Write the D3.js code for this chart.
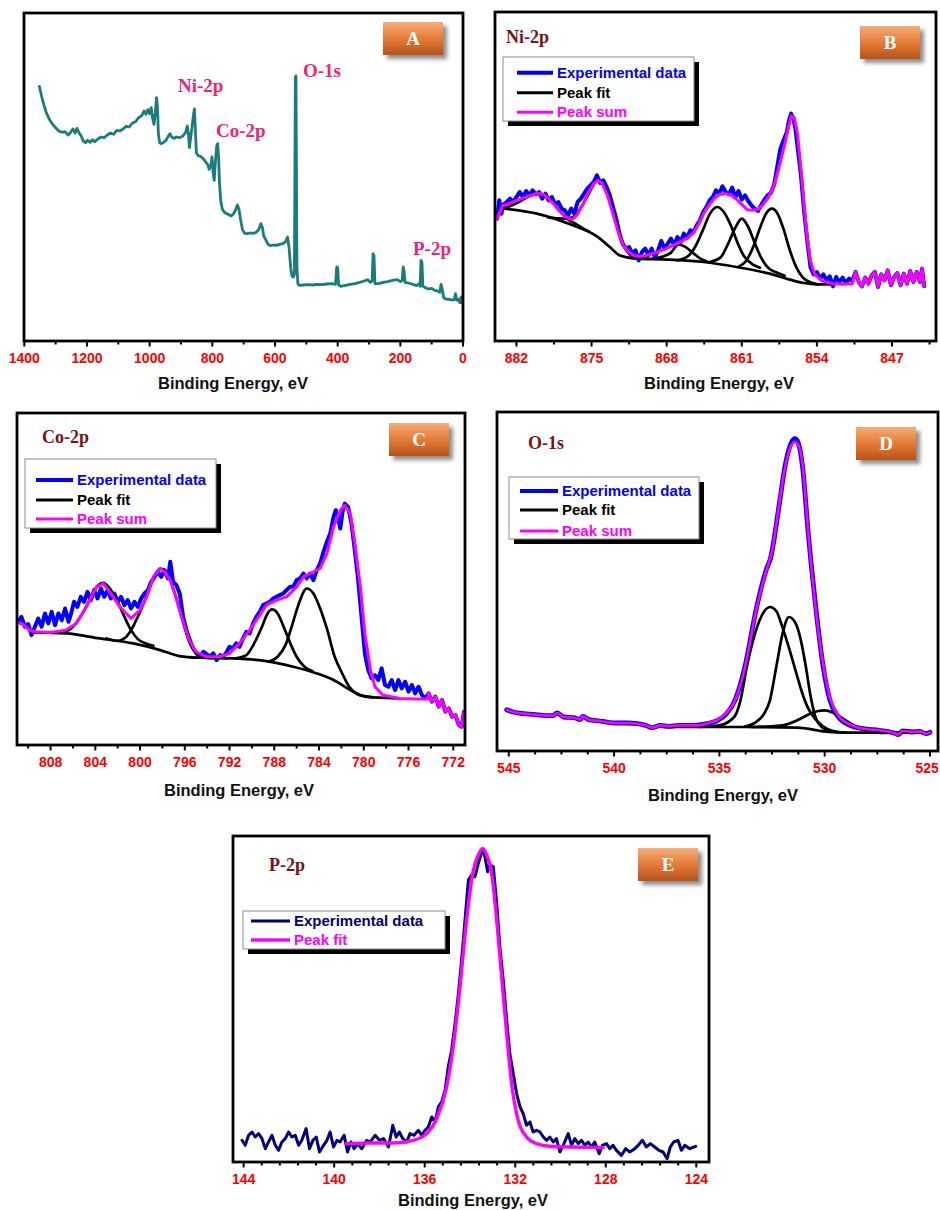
<!DOCTYPE html>
<html>
<head>
<meta charset="utf-8">
<script src="https://cdn.jsdelivr.net/npm/d3@7"></script>
<style>
  body { margin: 0; background: #fff; }
  svg { display: block; }
</style>
</head>
<body>
<script>
// ---- survey (A) : [binding energy, intensity a.u.] ----
const survey = [
  [1352,76.4],[1345,73.5],[1338,71],[1330,68.5],[1320,66.5],[1310,65],[1300,64],[1290,63],[1280,62.6],[1270,62.8],
  [1260,61.8],[1252,62.6],[1245,63.6],[1238,62.4],[1232,63.8],[1225,62.4],[1218,61.4],[1212,60],[1205,59.5],[1198,60.2],
  [1190,59.6],[1182,60.4],[1175,59.8],[1165,60.6],[1155,61.2],[1145,61],[1135,61.8],[1125,62.4],[1115,62],[1105,63.2],
  [1095,63],[1085,63.6],[1075,64.4],[1065,64.2],[1055,65.4],[1045,65.8],[1035,67],[1025,67.6],[1018,69],[1012,68],
  [1006,69.4],[1000,68.2],[995,70],[990,66.5],[986,65],[982,68.5],[978,73],[975,70],[972,62],[968,59.5],
  [962,59.2],[955,59.6],[948,60.2],[940,61.5],[935,62.2],[930,61.2],[922,60.8],[915,61.2],[905,61],[895,61.4],
  [885,62.6],[880,64.5],[876,62],[873,58],[869,61],[865,64],[860,68],[857,69.6],[854,63],[851,56.5],
  [845,55.6],[838,55.4],[830,54.8],[822,53.8],[815,53],[810,51.5],[805,52.5],[801,55.2],[797,50],[794,48.2],
  [790,54],[786,58.5],[783,59.2],[780,55],[777,47],[773,42],[768,39.5],[760,38.5],[750,38],[740,37.5],
  [732,38.2],[725,39.5],[720,40.8],[715,39.5],[710,36.5],[704,33.5],[697,32.3],[690,32.2],[680,32.4],[670,32.3],
  [660,32.6],[652,33.4],[645,35.2],[640,34],[636,31.5],[630,30.5],[622,29],[615,28.6],[605,28.8],[595,28.7],
  [585,29],[575,29.2],[566,29.8],[560,31.2],[555,28],[550,22],[546,19.5],[541,19.2],[538,20],[535,79.2],
  [533,79.5],[530,22],[527,17.2],[523,16.7],[510,16.8],[495,16.9],[480,16.8],[465,17],[450,16.9],[435,17.1],
  [420,17.2],[407,17],[403,22.2],[400,22],[397,16.8],[390,16.4],[375,16.7],[360,17],[345,17.2],[330,17.6],
  [315,18],[305,18.4],[295,17.6],[290,18],[287,26.2],[284,25.5],[281,17.2],[270,17.2],[255,17.6],[240,17.8],
  [225,18.2],[210,18.4],[200,17.8],[194,18.2],[191,22.2],[188,21],[185,17.6],[175,17.4],[160,17],[148,16.6],
  [140,17.2],[137,16.4],[134,24.2],[131,23.5],[128,16.4],[120,16],[110,15.6],[100,15.8],[90,15.2],[80,15],
  [74,14.6],[70,17],[66,15.5],[62,13],[55,12.6],[45,12.5],[35,12.3],[28,12.4],[24,14.2],[20,12.2],
  [15,12.5],[10,11.5],[6,13.2],[3,11.5],[0,11.2]
];
const surveyPeaks = [
  { name: 'Ni-2p', x: 178, y: 92 },
  { name: 'Co-2p', x: 216, y: 137 },
  { name: 'O-1s', x: 303, y: 77 },
  { name: 'P-2p', x: 413, y: 255 }
];

// ---- Ni 2p (B) ----
const niExp = [
  [883.8,36.7],[883.6,42.2],[883.4,38.2],[883.2,41],[882.9,41.7],[882.6,42.7],[882.3,41.7],[882.0,43.2],[881.7,44.7],[881.4,43.2],
  [881.1,45],[880.8,43.7],[880.5,45.2],[880.2,44],[879.9,44.7],[879.6,42.7],[879.3,44.2],[879.0,42.2],[878.7,43.2],[878.4,41],
  [878.1,41.7],[877.8,39.7],[877.5,39.2],[877.2,37.7],[876.9,39.7],[876.6,38.2],[876.3,41.7],[876.0,42.7],[875.7,44.2],[875.4,45.7],
  [875.1,46.7],[874.8,47.7],[874.5,49.7],[874.2,47.4],[873.9,48.2],[873.6,46.2],[873.3,43.7],[873.0,40.2],[872.7,36.7],[872.4,32.2],
  [872.1,29.2],[871.8,27.7],[871.5,28.2],[871.2,26.2],[870.9,27.2],[870.6,24.2],[870.3,26.7],[870.0,27.7],[869.7,25.7],[869.4,27.7],
  [869.1,25.2],[868.8,27.2],[868.5,30],[868.2,27.7],[867.9,29.2],[867.6,30.7],[867.3,28.7],[867.0,31.2],[866.7,29.7],[866.4,32.2],
  [866.1,31],[865.8,33.2],[865.5,32.7],[865.2,34.7],[864.9,36.2],[864.6,38.7],[864.3,40.2],[864.0,42.2],[863.7,43.2],[863.4,45.2],
  [863.1,44.2],[862.8,46.4],[862.5,44.7],[862.2,44],[861.9,46],[861.6,43.2],[861.3,45],[861.0,42.4],[860.7,43.7],[860.4,42],
  [860.1,40.7],[859.8,39.7],[859.5,39],[859.2,40.7],[858.9,42.4],[858.6,43.7],[858.3,44.4],[858.0,46.7],[857.7,52.2],[857.4,57.7],
  [857.1,60.2],[856.8,62.7],[856.6,66.2],[856.4,68.2],[856.2,66.7],[856.0,63.7],[855.8,58.2],[855.5,50.2],[855.2,39.2],[854.9,30.2],
  [854.6,22.2],[854.3,20],[854.0,20.7],[853.7,18.7],[853.4,20],[853.1,18.2],[852.8,19.4],[852.5,16.4],[852.2,19.2],[851.9,17.7],
  [851.6,19],[851.3,17.4],[851.0,18.7],[850.7,18],[850.4,20.7],[850.1,17.7],[849.8,16.4],[849.5,19],[849.2,17.2],[848.9,19.7],
  [848.6,20.7],[848.3,16.2],[848.0,20],[847.7,18.2],[847.4,21.2],[847.1,16.7],[846.8,19.2],[846.5,20.4],[846.2,16.7],[845.9,20.2],
  [845.6,17.2],[845.3,21],[845.0,17.7],[844.7,20.7],[844.4,17.7],[844.2,21.7],[844.0,16.4]
];
const niSum = [
  [883.8,36.7],[883.3,40.5],[882.5,41.5],[881.5,42.7],[880.5,43.8],[880.0,44.4],[879.5,44],[879.0,42.7],[878.5,41],[878.0,39],
  [877.5,37.4],[877.0,36.6],[876.7,36.7],[876.3,38],[875.8,41],[875.3,44.5],[874.8,47.2],[874.4,48.2],[874.0,47.2],[873.5,43.5],
  [873.0,38],[872.5,32.5],[872.0,28.5],[871.5,26.5],[871.0,25.6],[870.5,25.4],[870.0,25.6],[869.0,26.5],[868.0,27.8],[867.0,29.3],
  [866.0,31],[865.5,32.5],[865.0,35.2],[864.5,38.5],[864.0,41],[863.5,43],[863.0,44],[862.5,44.2],[862.0,43.8],[861.5,42.5],
  [861.0,41],[860.5,39.4],[860.0,39.2],[859.5,39.5],[859.0,41],[858.5,43.2],[858.0,46.5],[857.5,52.5],[857.0,59],[856.7,63.5],
  [856.4,67.5],[856.1,67],[855.8,62],[855.5,52],[855.2,41],[854.9,31],[854.6,24],[854.2,20],[853.5,18],[852.5,17.2],
  [851.5,17],[850.7,17.2]
];
const niBg = [
  [883.2,39.7],[880.1,38.2],[877.0,35],[874.5,31.4],[873.3,28.2],[872.4,25.7],[871.1,24.8],[867.7,24.4],[864.6,23.7],[861.5,22.2],
  [858.4,20.2],[856.5,18.4],[855.2,17.4],[854.0,17],[852.7,17]
];
const niFit1 = [[883.2,39.7],[882.0,41.3],[880.8,43.5],[880.1,44.4],[879.3,43.6],[878.6,41.5],[877.9,38.8],[877.3,36.7],[876.4,35],[875.8,33.8],[875.2,32.8]];
const niFit2 = [[879.0,37],[878.5,36.9],[877.5,36.7],[876.7,37.2],[876.0,40],[875.3,44],[874.8,47],[874.4,48.2],[873.9,47],[873.4,43],[872.9,37.5],[872.4,32],[871.9,28],[871.3,25.6],[870.5,24.9],[869.8,24.7]];
const niFit3 = [[869.5,24.6],[868.5,25.2],[867.6,26.5],[866.9,29],[866.3,28.3],[865.5,26.3],[864.9,24.8],[864.2,23.8]];
const niFit4 = [[867.0,24.2],[866.0,25.5],[865.3,28.5],[864.6,33.5],[864.0,38],[863.3,40.2],[862.7,38.8],[862.0,34.5],[861.4,29.5],[860.8,25.5],[860.0,23],[859.3,22]];
const niFit5 = [[864.0,23.7],[863.0,25],[862.3,29],[861.6,34],[861.0,36.7],[860.4,34.2],[859.8,29.5],[859.2,25],[858.5,21.8],[857.8,20.6],[857.0,19.6]];
const niFit6 = [[861.3,22.3],[860.6,24],[859.9,28.5],[859.3,34],[858.7,38.4],[858.2,39.7],[857.7,38.4],[857.1,33.5],[856.5,27],[855.9,22],[855.3,19],[854.6,17.6],[853.9,17]];

// ---- Co 2p (C) ----
const coExp = [
  [810.9,37],[810.6,38.5],[810.3,35.5],[810.0,36.3],[809.7,33],[809.4,35.5],[809.1,38],[808.8,35.5],[808.5,39.5],[808.2,36.5],
  [807.9,40],[807.6,36],[807.3,39.5],[807.0,37.5],[806.7,41],[806.4,37],[806.2,39],[805.9,43],[805.6,41.5],[805.3,44.5],
  [805.0,43],[804.7,46],[804.4,43.5],[804.1,46.5],[803.8,44],[803.5,47],[803.2,44.5],[802.9,46.5],[802.6,44],[802.3,45.5],
  [802.0,43],[801.7,44.5],[801.4,42],[801.1,43.5],[800.8,41],[800.5,43],[800.2,41.5],[799.9,44],[799.6,45.5],[799.3,46.5],
  [799.0,49],[798.7,50.5],[798.4,52],[798.1,50.5],[797.8,52.5],[797.5,50],[797.3,55],[797.05,49],[796.75,48],[796.45,45.5],
  [796.15,38.5],[795.85,34.5],[795.55,31.5],[795.25,29],[794.95,27.5],[794.65,26.5],[794.35,28],[794.05,27.3],[793.75,26.5],[793.45,27.5],
  [793.15,25.5],[792.85,27],[792.55,26.5],[792.25,28],[792.0,29.5],[791.7,29],[791.4,30.5],[791.1,29.5],[790.8,32],[790.5,34],
  [790.2,33.5],[789.9,36.5],[789.6,38.5],[789.3,40],[789.0,42],[788.7,42.5],[788.4,43],[788.1,44],[787.8,44.5],[787.5,45],
  [787.2,45.5],[786.9,46.5],[786.6,47.5],[786.3,47.5],[786.0,49.5],[785.7,50],[785.4,51.5],[785.1,50],[784.8,51.5],[784.5,49.5],
  [784.2,52.5],[783.9,54.5],[783.6,58],[783.3,61],[783.0,63.5],[782.7,68.5],[782.5,70.5],[782.3,68.5],[782.1,65],[781.9,70],
  [781.7,72.5],[781.4,71.5],[781.1,66.5],[780.8,58.5],[780.5,49.5],[780.2,38.5],[779.9,27.5],[779.6,22.5],[779.3,20],[779.0,21],
  [778.7,19.5],[778.4,23],[778.1,18],[777.8,17.5],[777.5,19.5],[777.2,16.5],[776.9,19.5],[776.6,17],[776.3,19],[776.0,16],
  [775.7,18],[775.4,15.5],[775.1,17.5],[774.8,15],[774.5,14],[774.2,15.5],[773.9,13],[773.6,14.5],[773.3,11.5],[773.0,13.5],
  [772.7,10],[772.4,11],[772.1,8.5],[771.8,9],[771.5,6],[771.25,5.5],[771.05,10]
];
const coSum = [
  [810.9,36.7],[810.5,36.3],[809.9,34.5],[809.3,34],[808.1,33.8],[806.6,34.5],[805.7,36.5],[804.8,41.5],[803.9,47.5],[803.3,48.5],
  [802.7,46],[801.8,41.5],[800.8,38],[800.0,40.5],[799.4,44.5],[798.8,50.5],[798.2,53],[797.8,52],[797.3,49.5],[796.8,44.5],
  [796.2,37.5],[795.6,31.5],[795.0,28],[794.1,26.5],[792.9,26.5],[792.0,27.5],[791.1,30.5],[790.2,34.5],[789.3,39],[788.7,42],
  [787.8,43.5],[786.9,44.5],[786.0,47.5],[785.4,50.5],[784.8,51.5],[783.9,53],[783.3,57.5],[782.7,65.5],[782.1,70.5],[781.7,72],
  [781.2,69.5],[780.8,60.5],[780.3,47.5],[779.9,33.5],[779.4,22.5],[779.0,17.5],[778.3,15],[776.8,14],[775.3,13.8],[774.3,13.8]
];
const coBg = [
  [809.6,33.8],[806.6,33.5],[803.6,32],[800.6,30.5],[798.2,28.5],[796.5,26.7],[794.7,26.2],[791.7,26],[788.7,25.2],[786.3,23.5],
  [784.2,21.5],[782.7,19.5],[781.2,16.5],[780.3,15],[779.1,14.3],[776.8,14]
];
const coFit1 = [[807.0,33.6],[806.0,35.5],[805.2,39.2],[804.4,44.2],[803.8,47.8],[803.3,48.7],[802.7,47],[802.0,43],[801.4,38.5],[800.8,34.5],[800.2,31.8],[799.5,30.5],[798.8,29.8]];
const coFit2 = [[803.0,32],[802.0,31.3],[801.3,32.3],[800.8,34.5],[800.2,38.5],[799.5,44],[798.8,50],[798.2,53],[797.8,52.3],[797.3,49.5],[796.8,44.5],[796.2,37.5],[795.6,31],[795.0,27.6],[794.3,26.3],[793.5,26.1]];
const coFit3 = [[791.5,26],[790.5,27],[789.8,30.5],[789.1,35.5],[788.6,39.5],[788.2,40.7],[787.7,39.5],[787.1,35],[786.5,30],[786.0,26.5],[785.3,23.5],[784.6,22.2]];
const coFit4 = [[788.5,25],[787.7,26.5],[787.0,30],[786.4,36],[785.8,42.5],[785.1,47],[784.5,45.5],[783.9,41],[783.3,35],[782.6,26.5],[782.0,22],[781.3,17.5],[780.6,15.3],[780.0,14.6],[779.2,14.3]];

// ---- O 1s (D) ----
const oExp = [
  [545.1,12.4],[544.8,11.7],[544.3,11.2],[543.8,11],[543.4,10.7],[542.9,10.6],[542.7,11.4],[542.4,10.2],[541.9,10],[541.6,9.4],
  [541.5,10.4],[541.2,9.4],[540.7,9],[540.4,8.7],[539.9,8.4],[539.4,8.4],[538.9,8.2],[538.5,7.7],[538.2,7],[537.8,7.7],
  [537.4,7.4],[536.9,7.7],[536.2,7.7],[535.6,8.2],[535.13,9],[534.66,11.2],[534.26,15.2],[533.79,25.2],[533.23,43.2],[532.73,55.2],
  [532.6,57.2],[532.13,75.2],[531.89,85.2],[531.57,92.7],[531.41,93.7],[531.26,92.5],[531.05,85.2],[530.78,65.2],[530.46,45.2],[530.07,25.2],
  [529.75,15.2],[529.35,10.2],[528.8,7.7],[528.2,6.7],[527.4,6.2],[526.7,5.4],[526.5,4.9],[526.3,6],[525.8,5.7],[525.5,5.9],
  [525.2,5.2],[525.0,5.6]
];
const oSum = [
  [536.0,7.7],[535.5,8.4],[535.1,9.3],[534.7,11.3],[534.3,14.6],[533.8,24.6],[533.25,42.4],[532.75,54.6],[532.5,60],[532.15,74.5],
  [531.9,84.5],[531.6,91.5],[531.42,92.7],[531.25,91.8],[531.05,86],[530.8,67],[530.5,47],[530.1,27],[529.75,16],[529.35,10.6],
  [528.8,8],[528.5,7.2]
];
const oBg = [[537.7,7.2],[533.7,7.2],[531.3,7],[529.8,5.7],[528.9,5.5],[525.2,5.5]];
const oFit1 = [[536.0,7.2],[535.0,7.7],[534.3,10.2],[534.0,15.2],[533.7,25.2],[533.4,33.2],[533.0,40.5],[532.6,43.2],[532.3,42],[532.0,37],[531.7,31],[531.4,24.5],[531.1,18],[530.8,13],[530.5,10],[530.1,7.5],[529.6,6],[529.0,5.5]];
const oFit2 = [[533.8,7.3],[533.3,8.5],[532.9,11],[532.6,15.2],[532.3,25.2],[532.0,35.2],[531.7,40.2],[531.4,38.5],[531.2,35],[530.9,25.5],[530.7,17.5],[530.4,9.5],[530.1,7],[529.8,6],[529.3,5.6]];
const oFit3 = [[533.5,7.2],[532.5,7.4],[531.8,8],[531.2,9.5],[530.7,11.2],[530.3,12],[530.0,12.2],[529.6,11.5],[529.2,10],[528.7,8],[528.2,6.5],[527.6,5.6],[527.0,5.4]];

// ---- P 2p (E) ----
const pExp = [
  [144.07,6.5],[143.93,5],[143.78,8],[143.63,9],[143.49,7.5],[143.34,8.5],[143.19,7],[143.04,4],[142.9,6],[142.75,8],
  [142.6,5],[142.46,3.5],[142.31,6],[142.16,7],[142.01,9],[141.87,7.5],[141.72,8],[141.57,5],[141.43,6.5],[141.24,10],
  [141.09,4],[140.94,6.5],[140.79,7.5],[140.65,3],[140.47,5],[140.32,6.5],[140.18,9],[140.03,4.5],[139.88,6.5],[139.74,6],
  [139.56,8],[139.41,3],[139.26,6],[139.12,4],[138.97,5.5],[138.78,4],[138.56,6.5],[138.41,6],[138.19,8],[138.0,6.5],
  [137.82,7],[137.6,4.5],[137.41,11],[137.26,7.5],[137.12,9],[136.97,7],[136.79,6],[136.65,8.5],[136.47,8],[136.28,9.5],
  [136.13,8],[135.99,9.5],[135.84,10.5],[135.69,13.5],[135.54,12],[135.4,16.5],[135.25,18],[135.1,21.5],[134.96,28.5],[134.81,33.5],
  [134.66,41.5],[134.51,50.5],[134.37,60.5],[134.22,72.5],[134.07,84.5],[133.93,86],[133.78,85.5],[133.63,89.5],[133.46,93.5],[133.34,91.5],
  [133.22,87],[133.12,89],[132.97,88.5],[132.82,77.5],[132.68,64.5],[132.53,54.5],[132.38,42.5],[132.24,32.5],[132.09,26.5],[131.94,20.5],
  [131.79,16.5],[131.65,14.5],[131.5,11],[131.35,12],[131.21,9],[131.06,9.5],[130.91,9],[130.76,7.5],[130.62,6.5],[130.47,7.5],
  [130.32,6],[130.18,7],[130.03,3],[129.88,5],[129.66,8.5],[129.51,5],[129.37,7],[129.22,5.5],[129.07,6.5],[128.93,5],
  [128.78,6],[128.63,4.5],[128.49,6],[128.29,2.5],[128.15,5],[127.97,5.5],[127.82,4],[127.68,5],[127.53,3.5],[127.31,2],
  [127.12,4],[126.94,3],[126.72,4],[126.57,5],[126.38,6.5],[126.21,4.5],[126.03,5.5],[125.84,4.5],[125.65,3.5],[125.47,3],
  [125.29,1],[125.15,4.5],[125.0,6],[124.81,6.5],[124.66,3.5],[124.51,5],[124.29,4],[124.03,4.7]
];
const pFit = [
  [139.47,5.5],[138.41,5.7],[137.38,5.7],[136.5,6.5],[135.91,8.5],[135.47,13],[135.03,22.5],[134.74,34.5],[134.44,52.5],[134.15,72.5],
  [133.85,87.5],[133.63,92],[133.44,94],[133.26,92],[133.04,86.5],[132.82,72.5],[132.6,55.5],[132.38,38.5],[132.16,23.5],[131.87,12.5],
  [131.5,7.5],[131.06,5.5],[130.47,4.7],[129.59,4.5],[128.12,4.3]
];

// ---- tick labels ----
const surveyTicks = [1400, 1200, 1000, 800, 600, 400, 200, 0];
const niTicks = [882, 875, 868, 861, 854, 847];
const coTicks = [808, 804, 800, 796, 792, 788, 784, 780, 776, 772];
const oTicks = [545, 540, 535, 530, 525];
const pTicks = [144, 140, 136, 132, 128, 124];

const W = 940, H = 1210;
const svg = d3.select('body').append('svg').attr('width', W).attr('height', H);
const defs = svg.append('defs');

const grad = defs.append('linearGradient').attr('id', 'boxGrad')
  .attr('x1', 0).attr('y1', 0).attr('x2', 0).attr('y2', 1);
grad.append('stop').attr('offset', '0%').attr('stop-color', '#f4ad78');
grad.append('stop').attr('offset', '55%').attr('stop-color', '#e37732');
grad.append('stop').attr('offset', '100%').attr('stop-color', '#b4521b');

defs.append('filter').attr('id', 'boxShadow')
  .attr('x', '-20%').attr('y', '-20%').attr('width', '150%').attr('height', '160%')
  .append('feDropShadow')
  .attr('dx', 4).attr('dy', 4).attr('stdDeviation', 2.2)
  .attr('flood-color', '#000').attr('flood-opacity', 0.45);

const SANS = 'Liberation Sans, Arial, sans-serif';
const SERIF = 'Liberation Serif, Times New Roman, serif';

/**
 * One XPS panel: frame, bottom ticks, curves, tag box
 */
function drawPanel(p) {
  const g = svg.append('g');
  const x = d3.scaleLinear().domain(p.xDomain).range([p.left, p.right]);
  const y = d3.scaleLinear().domain(p.yDomain).range([p.bottom, p.top]);

  const clipId = 'clip' + p.tag;
  defs.append('clipPath').attr('id', clipId)
    .append('rect')
    .attr('x', p.left).attr('y', p.top)
    .attr('width', p.right - p.left).attr('height', p.bottom - p.top);

  const plot = g.append('g').attr('clip-path', `url(#${clipId})`);
  p.series.forEach(s => {
    const line = d3.line()
      .x(d => x(d[0]))
      .y(d => y(d[1]))
      .curve(s.smooth ? d3.curveMonotoneX : d3.curveLinear);
    plot.append('path')
      .datum(s.data)
      .attr('d', line)
      .attr('fill', 'none')
      .attr('stroke', s.color)
      .attr('stroke-width', s.width)
      .attr('stroke-linejoin', 'round')
      .attr('stroke-linecap', 'round');
  });

  // frame
  g.append('rect')
    .attr('x', p.left).attr('y', p.top)
    .attr('width', p.right - p.left).attr('height', p.bottom - p.top)
    .attr('fill', 'none').attr('stroke', '#000').attr('stroke-width', 2.8);

  // ticks (major labelled, minor between)
  const [d0, d1] = p.xDomain;
  const lo = Math.min(d0, d1), hi = Math.max(d0, d1);
  const minor = [];
  for (let v = p.ticks[0] + Math.ceil((lo - p.ticks[0]) / p.minorStep) * p.minorStep; v <= hi + 1e-9; v += p.minorStep) {
    if (!p.ticks.some(t => Math.abs(t - v) < 1e-6)) minor.push(v);
  }
  g.selectAll(null).data(minor).enter().append('line')
    .attr('x1', d => x(d)).attr('x2', d => x(d))
    .attr('y1', p.bottom).attr('y2', p.bottom + 3.5)
    .attr('stroke', '#000').attr('stroke-width', 2);
  g.selectAll(null).data(p.ticks).enter().append('line')
    .attr('x1', d => x(d)).attr('x2', d => x(d))
    .attr('y1', p.bottom).attr('y2', p.bottom + 5.5)
    .attr('stroke', '#000').attr('stroke-width', 2);
  g.selectAll(null).data(p.ticks).enter().append('text')
    .attr('x', d => x(d)).attr('y', p.bottom + 22)
    .attr('text-anchor', 'middle')
    .attr('font-family', SANS).attr('font-weight', 'bold').attr('font-size', 14)
    .attr('fill', '#ff0000')
    .text(d => d)
    .each(function () {
      // keep labels at the page edge inside the picture
      const bb = this.getBBox();
      if (bb.x + bb.width > W - 1) {
        d3.select(this).attr('x', +this.getAttribute('x') - (bb.x + bb.width - (W - 1)));
      }
    });

  g.append('text')
    .attr('x', p.titleX).attr('y', p.bottom + p.titleDy)
    .attr('text-anchor', 'middle')
    .attr('font-family', SANS).attr('font-weight', 'bold').attr('font-size', 16.5)
    .attr('fill', '#111')
    .text('Binding Energy, eV');

  // orange tag box
  const b = p.box;
  g.append('rect')
    .attr('x', b[0]).attr('y', b[1]).attr('width', 60).attr('height', 33)
    .attr('fill', 'url(#boxGrad)').attr('filter', 'url(#boxShadow)');
  g.append('text')
    .attr('x', b[0] + 30).attr('y', b[1] + 23)
    .attr('text-anchor', 'middle')
    .attr('font-family', SERIF).attr('font-weight', 'bold').attr('font-size', 19)
    .attr('fill', '#fff')
    .text(p.tag);

  if (p.element) {
    g.append('text')
      .attr('x', p.element.x).attr('y', p.element.y)
      .attr('font-family', SERIF).attr('font-weight', 'bold').attr('font-size', 18)
      .attr('fill', '#7d1010')
      .text(p.element.name);
  }

  if (p.legend) drawLegend(g, p.legend);
  return g;
}

function drawLegend(g, L) {
  const w = L.box[2] - L.box[0], h = L.box[3] - L.box[1];
  g.append('rect')
    .attr('x', L.box[0] + 5).attr('y', L.box[1] + 5)
    .attr('width', w).attr('height', h)
    .attr('fill', '#000');
  g.append('rect')
    .attr('x', L.box[0]).attr('y', L.box[1])
    .attr('width', w).attr('height', h)
    .attr('fill', '#fff').attr('stroke', '#8c8c8c').attr('stroke-width', 1);
  L.items.forEach((it, i) => {
    const yy = L.rows[i];
    g.append('line')
      .attr('x1', L.lineX[0]).attr('x2', L.lineX[1])
      .attr('y1', yy).attr('y2', yy)
      .attr('stroke', it.color).attr('stroke-width', it.width);
    g.append('text')
      .attr('x', L.lineX[1] + 4).attr('y', yy + 5)
      .attr('font-family', SANS).attr('font-weight', 'bold').attr('font-size', 15)
      .attr('fill', it.color)
      .text(it.label);
  });
}

const BLUE = '#0000ff', MAG = '#ff00ff', BLK = '#000000', NAVY = '#00007a';
const stdLegend = [
  { label: 'Experimental data', color: BLUE, width: 4 },
  { label: 'Peak fit', color: BLK, width: 3 },
  { label: 'Peak sum', color: MAG, width: 3 }
];
const fitStyle = d => ({ data: d, color: BLK, width: 2.7, smooth: true });

// A: survey
const pa = drawPanel({
  tag: 'A', left: 24, right: 463, top: 13, bottom: 341,
  xDomain: [1401, 0], yDomain: [0, 98.4],
  ticks: surveyTicks, minorStep: 100,
  titleX: 233, titleDy: 48, box: [383, 22],
  series: [{ data: survey, color: '#197d7b', width: 2.8, smooth: false }]
});
pa.selectAll(null).data(surveyPeaks).enter().append('text')
  .attr('x', d => d.x).attr('y', d => d.y)
  .attr('font-family', SERIF).attr('font-weight', 'bold').attr('font-size', 19)
  .attr('fill', '#f5207a')
  .text(d => d.name);

// B: Ni 2p
drawPanel({
  tag: 'B', left: 495, right: 936, top: 12, bottom: 341,
  xDomain: [884.0, 842.9], yDomain: [0, 98.7],
  ticks: niTicks, minorStep: 3.5,
  titleX: 719, titleDy: 48, box: [860, 26],
  element: { name: 'Ni-2p', x: 506, y: 43 },
  series: [
    { data: niExp, color: BLUE, width: 4, smooth: false },
    fitStyle(niBg), fitStyle(niFit1), fitStyle(niFit2), fitStyle(niFit3),
    fitStyle(niFit4), fitStyle(niFit5), fitStyle(niFit6),
    { data: niSum.concat(niExp.filter(d => d[0] < 850.5)), color: MAG, width: 3, smooth: false }
  ],
  legend: { box: [503, 57, 694, 121], rows: [72.7, 92.7, 112.3], lineX: [517, 553], items: stdLegend }
});

// C: Co 2p
drawPanel({
  tag: 'C', left: 17, right: 465, top: 413, bottom: 745,
  xDomain: [811.0, 770.95], yDomain: [0, 99.7],
  ticks: coTicks, minorStep: 2,
  titleX: 239, titleDy: 51, box: [389, 423],
  element: { name: 'Co-2p', x: 42, y: 443 },
  series: [
    { data: coExp, color: BLUE, width: 4, smooth: false },
    fitStyle(coBg), fitStyle(coFit1), fitStyle(coFit2), fitStyle(coFit3), fitStyle(coFit4),
    { data: coSum.concat(coExp.filter(d => d[0] < 774.3)), color: MAG, width: 3, smooth: false }
  ],
  legend: { box: [25, 459, 216, 528], rows: [480, 500, 519], lineX: [36, 73], items: stdLegend }
});

// D: O 1s
drawPanel({
  tag: 'D', left: 497, right: 938, top: 412, bottom: 751,
  xDomain: [545.56, 524.62], yDomain: [0, 101.7],
  ticks: oTicks, minorStep: 1.25,
  titleX: 723, titleDy: 50, box: [856, 427],
  element: { name: 'O-1s', x: 528, y: 449 },
  series: [
    { data: oExp, color: BLUE, width: 4.8, smooth: true },
    fitStyle(oBg), fitStyle(oFit1), fitStyle(oFit2), fitStyle(oFit3),
    { data: oExp.filter(d => d[0] > 536.1).concat(oSum, oExp.filter(d => d[0] < 528.4)), color: MAG, width: 2.6, smooth: true }
  ],
  legend: { box: [509, 477, 699, 539], rows: [491, 510, 531], lineX: [520, 558], items: stdLegend }
});

// E: P 2p
drawPanel({
  tag: 'E', left: 233, right: 709, top: 836, bottom: 1162,
  xDomain: [144.47, 123.44], yDomain: [0, 97.7],
  ticks: pTicks, minorStep: 0.8,
  titleX: 473, titleDy: 44, box: [638, 848],
  element: { name: 'P-2p', x: 269, y: 871 },
  series: [
    { data: pExp, color: NAVY, width: 3, smooth: false },
    { data: pFit, color: MAG, width: 3.4, smooth: true }
  ],
  legend: {
    box: [243, 911, 445, 949], rows: [921, 940], lineX: [251, 290],
    items: [
      { label: 'Experimental data', color: NAVY, width: 3.2 },
      { label: 'Peak fit', color: MAG, width: 3.4 }
    ]
  }
});
</script>
</body>
</html>
